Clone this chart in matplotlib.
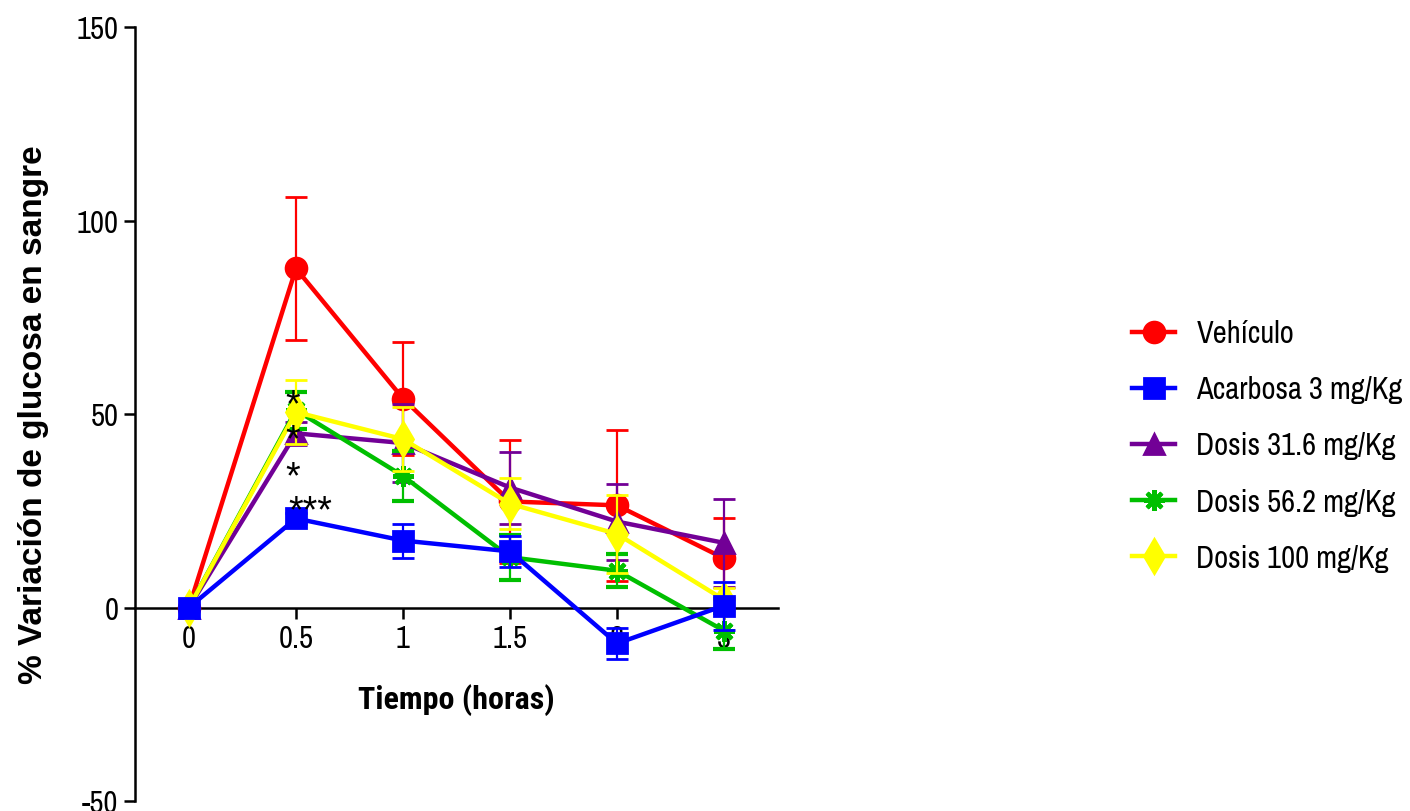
import matplotlib
matplotlib.use("Agg")
import matplotlib.pyplot as plt

plt.rcParams["axes.unicode_minus"] = False

# Time points (hours) and tick labels
x_pos = [0, 0.5, 1, 1.5, 2, 2.5]
x_labels = ["0", "0.5", "1", "1.5", "2", "3"]

series_names = ["Vehículo", "Acarbosa 3 mg/Kg", "Dosis 31.6 mg/Kg",
                "Dosis 56.2 mg/Kg", "Dosis 100 mg/Kg"]

vehiculo = [0, 87.6, 54.0, 27.4, 26.4, 12.7]
vehiculo_err = [0, 18.5, 14.5, 16.0, 19.5, 10.3]
acarbosa = [0, 23.0, 17.3, 14.5, -9.3, 0.5]
acarbosa_err = [0, 1.5, 4.4, 4.1, 3.9, 6.2]
dosis316 = [0, 45.0, 42.5, 31.0, 22.2, 16.7]
dosis316_err = [0, 3.0, 10.0, 9.3, 9.8, 11.3]
dosis562 = [0, 51.0, 34.0, 13.0, 9.5, -6.0]
dosis562_err = [0, 4.8, 6.4, 5.8, 4.2, 4.6]
dosis100 = [0, 50.5, 43.5, 26.8, 19.0, 2.0]
dosis100_err = [0, 8.2, 8.2, 6.6, 10.0, 3.0]

# significance marks at 0.5 h: (x, y centre, text)
sig_x = [0.486, 0.486, 0.486, 0.565]
sig_y = [55.5, 46.3, 36.9, 28.0]
sig_text = ["*", "*", "*", "***"]

narrow = ["Liberation Sans Narrow", "Archivo Narrow", "Liberation Sans"]
narrow_bold = ["Liberation Sans Narrow", "Roboto Condensed", "Barlow Semi Condensed",
               "Liberation Sans"]
bold_font = ["Liberation Sans", "DejaVu Sans"]

fig = plt.figure(figsize=(14.10, 8.12), dpi=100)
ax = fig.add_axes([135 / 1410, 10 / 812, (778 - 135) / 1410, (802 - 28) / 812])

# drawing order: later series sit on top
styles = [
    (0, vehiculo, vehiculo_err, "#FF0000", "o", 15, 2),
    (2, dosis316, dosis316_err, "#720096", "^", 15, 2),
    (3, dosis562, dosis562_err, "#00BF00", (8, 2, 0), 15, 3),
    (4, dosis100, dosis100_err, "#FFFF00", "d", 17, 2),
    (1, acarbosa, acarbosa_err, "#0000FF", "s", 14, 2),
]

handles = {}
for k, (idx, vals, errs, col, mk, ms, mew) in enumerate(styles):
    eb = ax.errorbar(x_pos, vals, yerr=errs, color=col, marker=mk, markersize=ms,
                     lw=3.2, elinewidth=1.6, capsize=8, capthick=2.5,
                     markeredgecolor=col, markeredgewidth=mew, zorder=3 + k)
    handles[idx] = eb[0]

for sx, sy, st in zip(sig_x, sig_y, sig_text):
    ax.annotate(st, (sx, sy), xytext=(0, -16), textcoords="offset points",
                fontsize=27, ha="center", va="baseline", family=bold_font, zorder=10)

ax.set_xlim(-0.252, 2.752)
ax.set_ylim(-50, 150)
ax.set_yticks([-50, 0, 50, 100, 150])
ax.set_xticks(x_pos)
ax.set_xticklabels(x_labels)

for s in ["top", "right"]:
    ax.spines[s].set_visible(False)
ax.spines["bottom"].set_position(("data", 0))
ax.spines["left"].set_linewidth(1.8)
ax.spines["bottom"].set_linewidth(1.8)
ax.tick_params(axis="both", direction="out", length=8, width=1.8, labelsize=22, pad=4)
for lab in ax.get_xticklabels() + ax.get_yticklabels():
    lab.set_family(narrow)

ax.set_ylabel("% Variación de glucosa en sangre", fontsize=24, fontweight="bold",
              family=bold_font, labelpad=20)
ax.set_xlabel("Tiempo (horas)", fontsize=23, fontweight="bold", family=narrow_bold,
              labelpad=22)

fig.legend([handles[i] for i in range(5)], series_names, loc="upper left",
           bbox_to_anchor=(1120 / 1410, 1 - 308 / 812), frameon=False,
           prop=dict(family=narrow, size=22), handlelength=1.4, numpoints=1,
           labelspacing=0.92, handletextpad=0.7, borderaxespad=0)

fig.savefig("out.png", dpi=100)
